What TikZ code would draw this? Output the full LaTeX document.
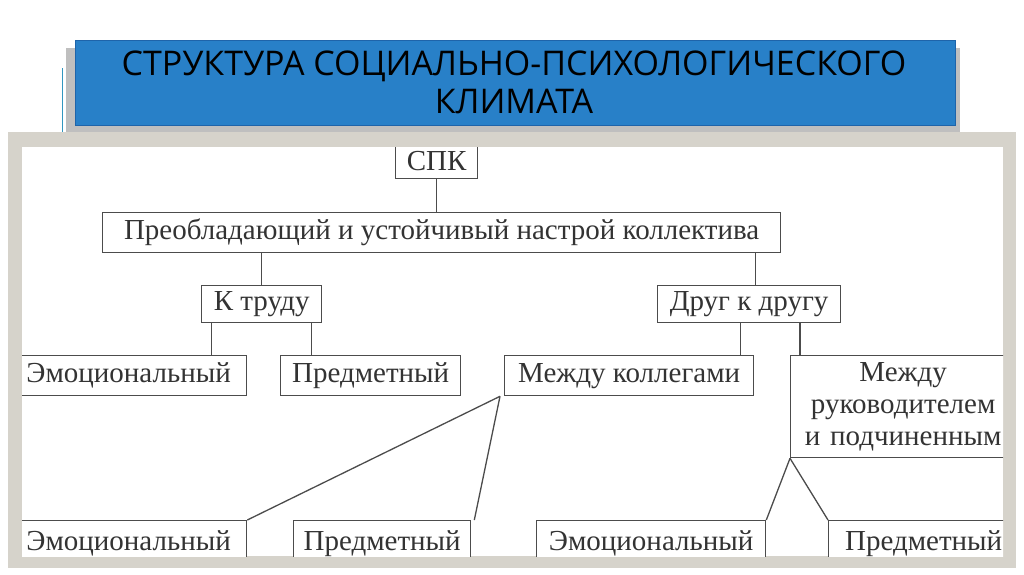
\documentclass[tikz,border=0pt]{standalone}
\usepackage{fontspec}
\setmainfont{Liberation Serif}
\newfontfamily\titlefont{Open Sans}
\definecolor{panelgray}{RGB}{214,211,203}
\definecolor{titleblue}{RGB}{40,128,200}
\definecolor{titleedge}{RGB}{30,100,170}
\begin{document}
\begin{tikzpicture}[x=1pt,y=-1pt,
  bx/.style={draw=black!70,line width=1.3pt,fill=white,inner sep=0pt,font=\fontsize{29}{32}\selectfont,text=black!80,align=center},
  ln/.style={draw=black!70,line width=1.3pt}]
\useasboundingbox (0,0) rectangle (1024,574);
\fill[white] (0,0) rectangle (1024,574);
% title
\fill[black!25] (66,48) rectangle (960,132);
\draw[cyan!50!teal,line width=1pt] (62,68) -- (62,132);
\node[fill=titleblue,draw=titleedge,minimum width=880pt,minimum height=85pt,anchor=north west,inner sep=0pt] (title) at (75,40) {};
\node[font=\titlefont\fontsize{34}{38}\selectfont,align=center,text=black] (tt) at (514,82) {СТРУКТУРА СОЦИАЛЬНО-ПСИХОЛОГИЧЕСКОГО\\КЛИМАТА};
% panel
\fill[panelgray] (8,132) rectangle (1016,568);
\fill[white] (22,147) rectangle (1003,556);
\begin{scope}
\clip (22,147) rectangle (1003,556);
\node[bx,minimum width=82pt,minimum height=36pt,anchor=north west] (spk) at (395,142) {СПК};
\node[bx,minimum width=678pt,minimum height=40pt,anchor=north west] (pr) at (102,212) {Преобладающий и устойчивый настрой коллектива};
\node[bx,minimum width=120pt,minimum height=37pt,anchor=north west] (kt) at (201,285) {К труду};
\node[bx,minimum width=183pt,minimum height=37pt,anchor=north west] (dd) at (657,285) {Друг к другу};
\node[bx,minimum width=236pt,minimum height=40pt,anchor=north west] (e1) at (10,355) {Эмоциональный};
\node[bx,minimum width=180pt,minimum height=40pt,anchor=north west] (p1) at (280,355) {Предметный};
\node[bx,minimum width=249pt,minimum height=40pt,anchor=north west] (mk) at (504,355) {Между коллегами};
\node[bx,minimum width=225pt,minimum height=102pt,anchor=north west,text width=215pt] (mr) at (790,355) {Между\\руководителем\\и подчиненным};
\node[bx,minimum width=236pt,minimum height=45pt,anchor=north west] (e2) at (10,520) {Эмоциональный};
\node[bx,minimum width=177pt,minimum height=45pt,anchor=north west] (p2) at (293,520) {Предметный};
\node[bx,minimum width=229pt,minimum height=45pt,anchor=north west] (e3) at (536,520) {Эмоциональный};
\node[bx,minimum width=190pt,minimum height=45pt,anchor=north west] (p3) at (828,520) {Предметный};
\draw[ln] (spk.south) -- (spk.south |- pr.north);
\draw[ln] (kt.north) -- (kt.north |- pr.south);
\draw[ln] ([xshift=6pt]dd.north) -- ([xshift=6pt]dd.north |- pr.south);
\draw[ln] ([xshift=-50pt]kt.south) -- ([xshift=-50pt]kt.south |- e1.north);
\draw[ln] ([xshift=50pt]kt.south) -- ([xshift=50pt]kt.south |- p1.north);
\draw[ln] ([xshift=-14pt]mk.north east) -- ([xshift=-14pt]mk.north east |- dd.south);
\draw[ln] ([xshift=10pt]mr.north west) -- ([xshift=10pt]mr.north west |- dd.south);
\draw[ln] ([xshift=-4pt]mk.south west) -- (e2.north east);
\draw[ln] ([xshift=-4pt]mk.south west) -- ([xshift=3pt]p2.north east);
\draw[ln] (mr.south west) -- (e3.north east);
\draw[ln] (mr.south west) -- (p3.north west);
\end{scope}
\end{tikzpicture}
\end{document}
